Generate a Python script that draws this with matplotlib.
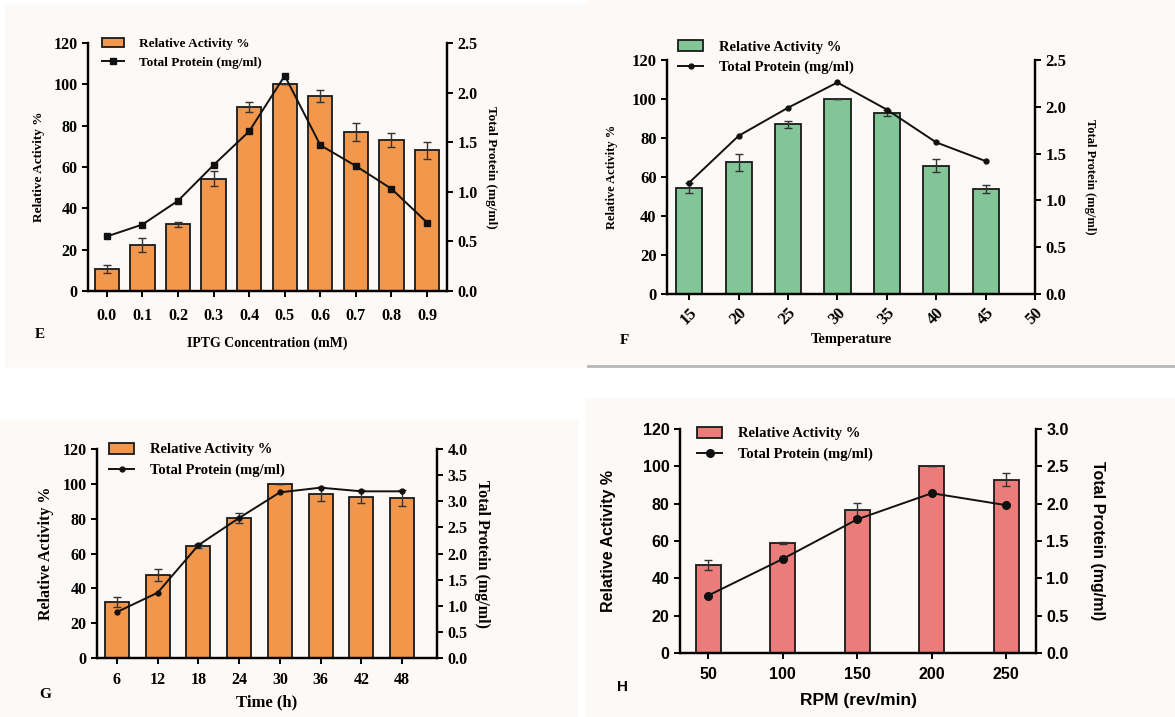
import numpy as np
import matplotlib.pyplot as plt
from matplotlib.patches import Rectangle
from matplotlib.lines import Line2D

# E: IPTG concentration
iptg = ['0.0', '0.1', '0.2', '0.3', '0.4', '0.5', '0.6', '0.7', '0.8', '0.9']
iptg_act = [10.8, 22.3, 32.3, 54.4, 89.0, 100, 94.5, 77.0, 73.0, 68.0]
iptg_err = [2.0, 3.2, 1.3, 3.7, 2.3, 0, 2.9, 4.2, 3.5, 3.9]
iptg_prot = [0.55, 0.67, 0.91, 1.27, 1.61, 2.17, 1.47, 1.26, 1.03, 0.69]

# F: temperature
temp = ['15', '20', '25', '30', '35', '40', '45', '50']
temp_act = [54.5, 67.5, 87.0, 100, 92.8, 65.8, 53.8]
temp_err = [2.5, 4.4, 1.7, 0, 1.5, 3.2, 1.9]
temp_prot = [1.19, 1.69, 1.99, 2.26, 1.97, 1.62, 1.42]

# G: time
time_h = ['6', '12', '18', '24', '30', '36', '42', '48']
time_act = [31.9, 47.6, 64.3, 80.5, 100, 94.0, 92.7, 91.8]
time_err = [2.9, 3.5, 1.0, 2.9, 0, 4.0, 3.8, 4.4]
time_prot = [0.88, 1.25, 2.16, 2.68, 3.17, 3.26, 3.19, 3.19]

# H: RPM
rpm = ['50', '100', '150', '200', '250']
rpm_act = [47.3, 59.0, 76.5, 100, 92.9]
rpm_err = [2.7, 0.5, 3.7, 0, 3.4]
rpm_prot = [0.77, 1.26, 1.79, 2.14, 1.98]

SERIF = 'Liberation Serif'
SANS = 'Liberation Sans'

fig = plt.figure(figsize=(11.75, 7.17), dpi=100)

# faint page backgrounds of the four panels (behind the axes)
for x0, y0, x1, y1 in [(5, 5, 588, 366), (588, 0, 1175, 363), (0, 420, 577, 717), (585, 398, 1175, 717)]:
    fig.patches.append(Rectangle((x0 / 1175, 1 - y1 / 717), (x1 - x0) / 1175, (y1 - y0) / 717,
                                 transform=fig.transFigure, color='#fcf9f6', zorder=-2))
fig.lines.append(Line2D([588 / 1175, 1], [1 - 366 / 717] * 2, transform=fig.transFigure,
                        color='#b8b8b8', lw=2, zorder=-1))


def px(x0, y0, x1, y1):
    return [x0 / 1175, 1 - y1 / 717, (x1 - x0) / 1175, (y1 - y0) / 717]


def panel(rect, labels, act, err, prot, color, xlim, width, pmax, pstep, msize, marker,
          xlabel, letter, letter_xy, leg_xy, tickfont, labfont, tsize, ysize, xsize, legsize,
          xpad=3.5, xlpad=4, ylpad=4, rlpad=14, rot=0):
    ax = fig.add_axes(px(*rect))
    ax.patch.set_alpha(0)
    x = np.arange(len(act))
    bars = ax.bar(x, act, width=width, color=color, edgecolor='#1a1a1a', linewidth=1.3, zorder=2)
    ax.errorbar(x, act, yerr=err, fmt='none', ecolor='#333333', elinewidth=1, capsize=3, zorder=3)
    ax.set_ylim(0, 120)
    ax.set_yticks(range(0, 121, 20))
    ax.set_xlim(*xlim)
    ax.set_xticks(np.arange(len(labels)))
    if rot:
        ax.set_xticklabels(labels, rotation=rot, ha='right', rotation_mode='anchor')
    else:
        ax.set_xticklabels(labels)
    ax2 = ax.twinx()
    line, = ax2.plot(x, prot, color='#111111', lw=1.4, marker=marker, ms=msize, zorder=4)
    ax2.set_ylim(0, pmax)
    ticks = np.arange(0, pmax + 0.01, pstep)
    ax2.set_yticks(ticks)
    ax2.set_yticklabels(['%.1f' % t for t in ticks])
    for a in (ax, ax2):
        a.spines['top'].set_visible(False)
        for s in ('left', 'right', 'bottom'):
            a.spines[s].set_linewidth(1.6)
        a.tick_params(width=1.4, length=4, labelsize=tsize)
        for t in a.get_xticklabels() + a.get_yticklabels():
            t.set_fontfamily(tickfont)
            t.set_fontweight('bold')
    ax.tick_params(axis='x', pad=xpad)
    ax.set_ylabel('Relative Activity %', fontsize=ysize, fontfamily=labfont, fontweight='bold',
                  labelpad=ylpad)
    ax2.set_ylabel('Total Protein (mg/ml)', fontsize=ysize, fontfamily=labfont, fontweight='bold',
                   rotation=270, labelpad=rlpad)
    ax.set_xlabel(xlabel, fontsize=xsize, fontfamily=labfont, fontweight='bold', labelpad=xlpad)
    ax.legend([bars, line], ['Relative Activity %', 'Total Protein (mg/ml)'],
              loc='upper left', bbox_to_anchor=(leg_xy[0] / 1175, 1 - leg_xy[1] / 717),
              bbox_transform=fig.transFigure, frameon=False, handlelength=1.7,
              borderpad=0, labelspacing=0.5, handletextpad=1.1,
              prop={'family': SERIF, 'weight': 'bold', 'size': legsize})
    fig.text(letter_xy[0] / 1175, 1 - letter_xy[1] / 717, letter, fontsize=11,
             fontfamily=tickfont, fontweight='bold', ha='center', va='center')
    return ax


panel((88, 43, 447, 291), iptg, iptg_act, iptg_err, iptg_prot, '#f3974c', (-0.53, 9.56), 0.68,
      2.5, 0.5, 5, 's', 'IPTG Concentration (mM)', 'E', (40, 334), (95, 31),
      SERIF, SERIF, 11.5, 9.5, 10, 9.5, xpad=8, xlpad=9, ylpad=6, rlpad=14)

panel((667, 60, 1035, 294), temp, temp_act, temp_err, temp_prot, '#82c697', (-0.45, 7.0), 0.53,
      2.5, 0.5, 3.5, 'o', 'Temperature', 'F', (624, 340), (671, 33),
      SERIF, SERIF, 12, 9, 10.5, 10.5, xlpad=4, ylpad=10, rlpad=21, rot=45)

panel((97, 449, 437, 658), time_h, time_act, time_err, time_prot, '#f1964a', (-0.49, 7.86), 0.59,
      4.0, 0.5, 3.5, 'o', 'Time (h)', 'G', (45, 695), (102, 436),
      SERIF, SERIF, 11.5, 11.5, 12, 10.5, xpad=6, xlpad=5, ylpad=6, rlpad=16)

panel((680, 429, 1036, 653), rpm, rpm_act, rpm_err, rpm_prot, '#ec7c79', (-0.38, 4.40), 0.34,
      3.0, 0.5, 5.5, 'o', 'RPM (rev/min)', 'H', (623, 687), (690, 420),
      SANS, SANS, 11.5, 11.5, 12.5, 10.5, xpad=6, xlpad=8, ylpad=19, rlpad=26)

fig.savefig('out.png', dpi=100)
